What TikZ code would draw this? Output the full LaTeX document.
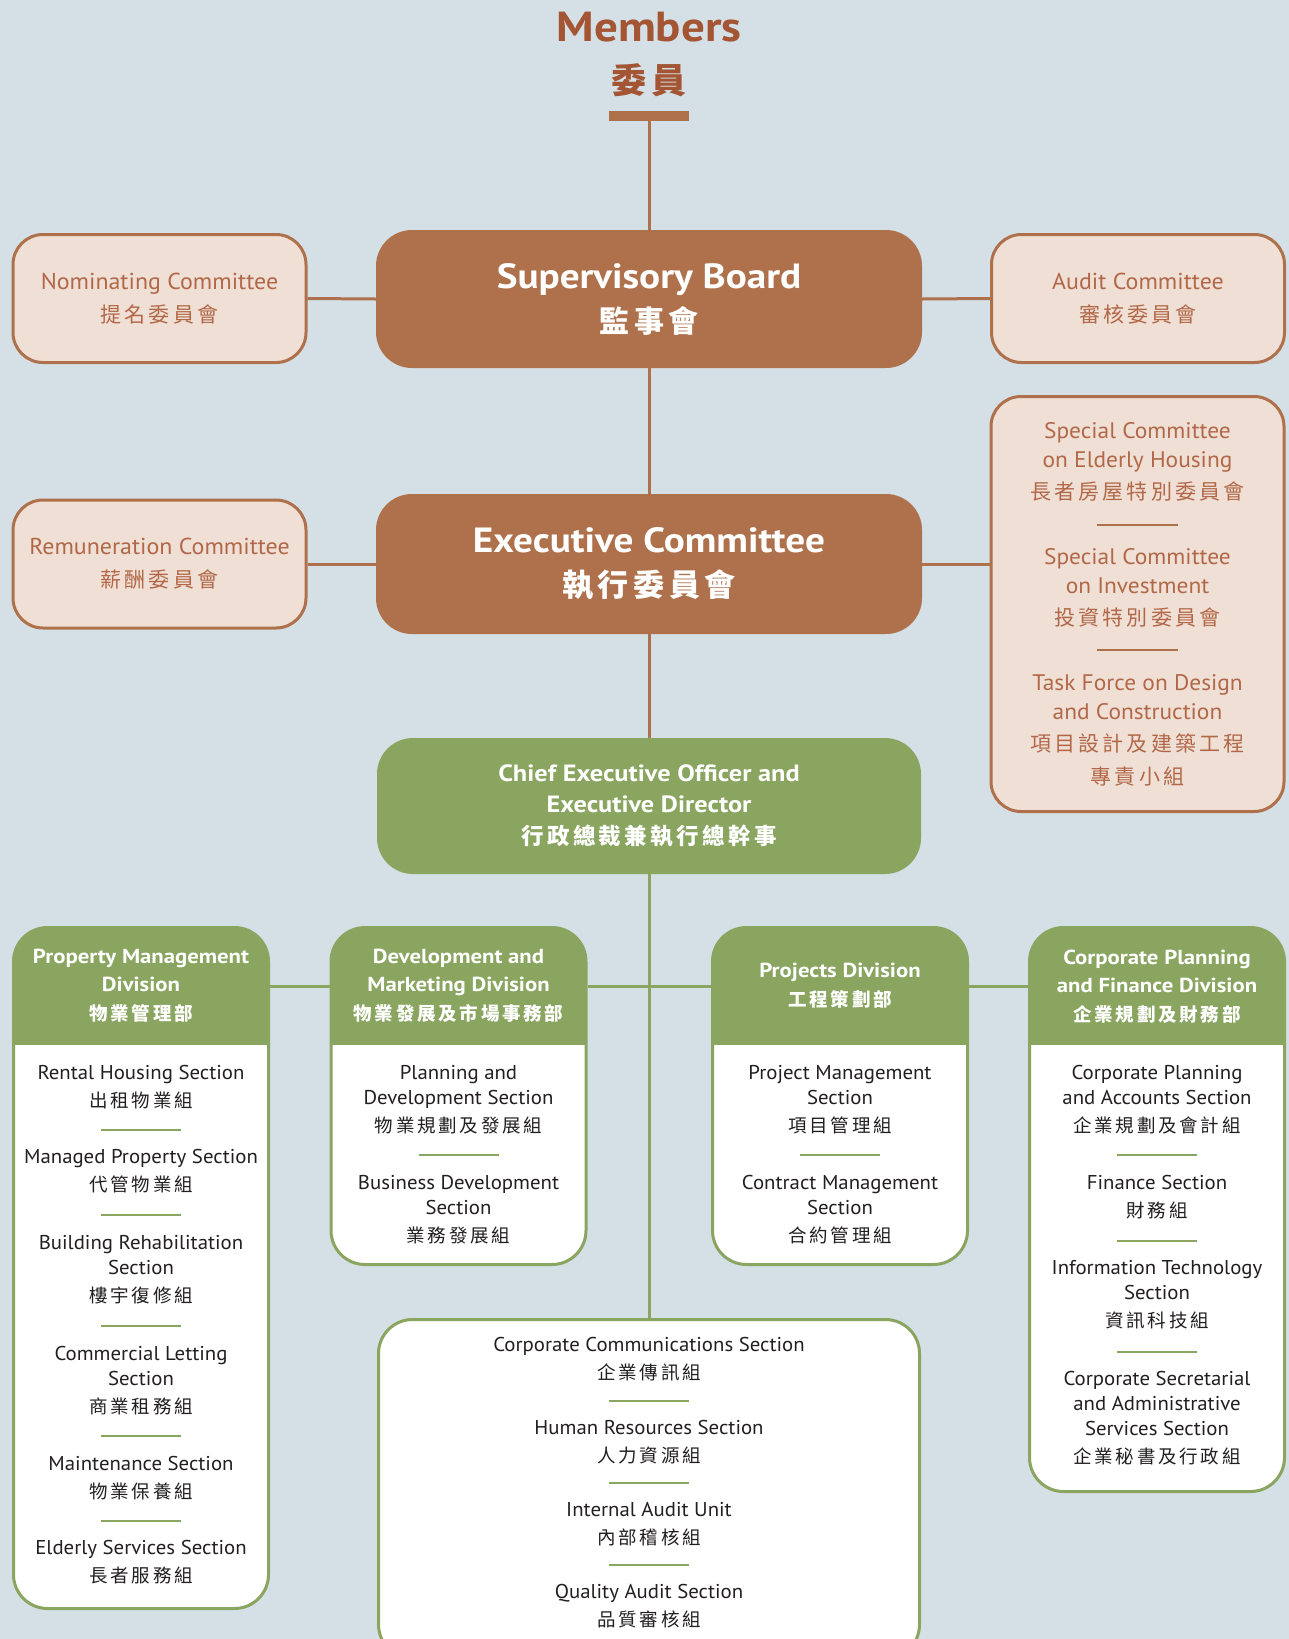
\documentclass[tikz,border=0pt]{standalone}
\usepackage{fontspec}
\setmainfont{PT Sans}[FakeStretch=1.04, BoldFeatures={FakeStretch=1.12}]
\newfontfamily\cjk[LetterSpace=15]{Noto Sans CJK TC}
\usepackage{tikz}
\usetikzlibrary{positioning,calc}
\usepackage{xcolor}
\definecolor{bgblue}{RGB}{213,224,230}
\definecolor{hkbrown}{RGB}{174,113,76}
\definecolor{darkbrown}{RGB}{163,85,52}
\definecolor{pinkfill}{RGB}{239,223,213}
\definecolor{ctext}{RGB}{178,104,72}
\definecolor{hkgreen}{RGB}{137,165,96}
\definecolor{bodytext}{RGB}{35,31,32}
\newcommand{\zh}[2]{{\cjk\fontsize{#1}{#1}\selectfont #2}}
\tikzstyle{bline} = [line width=3pt,color=hkbrown]
\tikzstyle{gline} = [line width=3pt,color=hkgreen]
\tikzstyle{grule} = [line width=1.5pt,color=hkgreen]
\tikzstyle{brule} = [line width=1.5pt,color=hkbrown]
\tikzstyle{brownbox} = [fill=hkbrown, rounded corners=36pt, text=white, align=center, inner sep=0pt,
  font=\bfseries\fontsize{35}{44}\selectfont, minimum width=546pt, minimum height=138pt]
\tikzstyle{pinkbox} = [draw=hkbrown, line width=3pt, fill=pinkfill, rounded corners=30pt, text=ctext, align=center,
  inner sep=0pt, font=\fontsize{23}{29}\selectfont, minimum width=293pt, minimum height=128pt]
\tikzstyle{greenbox} = [fill=hkgreen, rounded corners=36pt, text=white, align=center, inner sep=0pt,
  font=\bfseries\fontsize{23.5}{31}\selectfont, minimum width=544pt, minimum height=136pt]
\tikzstyle{bodybox} = [draw=hkgreen, line width=3pt, fill=white, rounded corners=34pt, inner sep=0pt, minimum width=255pt]
\tikzstyle{divbox} = [bodybox, path picture={\fill[hkgreen, sharp corners] (path picture bounding box.north west) rectangle ([yshift=-117.5pt]path picture bounding box.north east);}]
\tikzstyle{divhead} = [text=white, align=center, inner sep=0pt, font=\bfseries\fontsize{20.3}{28}\selectfont]
\tikzstyle{sect} = [text=bodytext, align=center, inner sep=0pt, font=\fontsize{20}{25}\selectfont]
\tikzstyle{spectext} = [text=ctext, align=center, inner sep=0pt, font=\fontsize{22.5}{29}\selectfont]

\begin{document}
\begin{tikzpicture}[x=1pt, y=-1pt]
% Background
\fill[bgblue, use as bounding box] (0,0) rectangle (1289,1639);

% Members
\node[font=\bfseries\fontsize{42}{52}\selectfont, text=darkbrown, align=center, inner sep=0pt] (members) at (649,54) {Members\\\zh{35}{委員}};
\node[fill=hkbrown, minimum width=80pt, minimum height=10pt, inner sep=0pt] (bar) at (649,116) {};

% Boards and committees
\node[brownbox] (sb) at (649,299) {Supervisory Board\\\zh{30}{監事會}};
\node[pinkbox] (nom) at (159.5,298.5) {Nominating Committee\\[4pt]\zh{21}{提名委員會}};
\node[pinkbox] (aud) at (1138,298.5) {Audit Committee\\[4pt]\zh{21}{審核委員會}};
\node[brownbox, minimum height=140pt] (ec) at (649,564) {Executive Committee\\\zh{31}{執行委員會}};
\node[pinkbox] (rem) at (159.5,564) {Remuneration Committee\\[4pt]\zh{21}{薪酬委員會}};
\node[pinkbox, minimum height=415pt] (spec) at (1137.5,604) {};
\node[spectext] (sc1) at (1137.5,461.5) {Special Committee\\on Elderly Housing\\[3pt]\zh{21}{長者房屋特別委員會}};
\node[spectext] (sc2) at (1137.5,587.5) {Special Committee\\on Investment\\[3pt]\zh{21}{投資特別委員會}};
\node[spectext] (sc3) at (1137.5,730.5) {Task Force on Design\\and Construction\\[3pt]\zh{21}{項目設計及建築工程}\\[4pt]\zh{21}{專責小組}};
\foreach \y in {525,650}
    \draw[brule] (1097,\y) -- (1178,\y);

% CEO
\node[greenbox] (ceo) at (649,806) {Chief Executive Officer and\\Executive Director\\[1pt]\zh{22.5}{行政總裁兼執行總幹事}};

% Divisions
\node[divbox, minimum height=681pt] (pm) at (141,1268) {};
\node[divbox, minimum height=337pt] (dm) at (458.5,1096) {};
\node[divbox, minimum height=337pt] (pj) at (840,1096) {};
\node[divbox, minimum height=564pt] (cf) at (1157,1209.5) {};
\node[bodybox, minimum width=541pt, minimum height=339pt] (bot) at (649,1489) {};

\node[divhead] (pmh) at (141,986) {Property Management\\Division\\[1pt]\zh{18.5}{物業管理部}};
\node[divhead] (dmh) at (458.5,986) {Development and\\Marketing Division\\[1pt]\zh{18.5}{物業發展及市場事務部}};
\node[divhead] (pjh) at (840,986) {Projects Division\\[1pt]\zh{18.5}{工程策劃部}};
\node[divhead] (cfh) at (1157,987) {Corporate Planning\\and Finance Division\\[1pt]\zh{18.5}{企業規劃及財務部}};

% Sections
\node[sect] (pm1) at (141,1087) {Rental Housing Section\\[3pt]\zh{18.5}{出租物業組}};
\node[sect] (pm2) at (141,1171) {Managed Property Section\\[3pt]\zh{18.5}{代管物業組}};
\node[sect] (pm3) at (141,1269.5) {Building Rehabilitation\\Section\\[3pt]\zh{18.5}{樓宇復修組}};
\node[sect] (pm4) at (141,1380.5) {Commercial Letting\\Section\\[3pt]\zh{18.5}{商業租務組}};
\node[sect] (pm5) at (141,1478) {Maintenance Section\\[3pt]\zh{18.5}{物業保養組}};
\node[sect] (pm6) at (141,1562) {Elderly Services Section\\[3pt]\zh{18.5}{長者服務組}};
\foreach \y in {1130,1215,1326,1436,1521}
    \draw[grule] (101,\y) -- (181,\y);

\node[sect] (dm1) at (458.5,1100) {Planning and\\Development Section\\[3pt]\zh{18.5}{物業規劃及發展組}};
\node[sect] (dm2) at (458.5,1210) {Business Development\\Section\\[3pt]\zh{18.5}{業務發展組}};
\draw[grule] (418.5,1155) -- (498.5,1155);

\node[sect] (pj1) at (840,1100) {Project Management\\Section\\[3pt]\zh{18.5}{項目管理組}};
\node[sect] (pj2) at (840,1210) {Contract Management\\Section\\[3pt]\zh{18.5}{合約管理組}};
\draw[grule] (800,1155) -- (880,1155);

\node[sect] (cf1) at (1157,1100) {Corporate Planning\\and Accounts Section\\[3pt]\zh{18.5}{企業規劃及會計組}};
\node[sect] (cf2) at (1157,1197.5) {Finance Section\\[3pt]\zh{18.5}{財務組}};
\node[sect] (cf3) at (1157,1295) {Information Technology\\Section\\[3pt]\zh{18.5}{資訊科技組}};
\node[sect] (cf4) at (1157,1418.5) {Corporate Secretarial\\and Administrative\\Services Section\\[3pt]\zh{18.5}{企業秘書及行政組}};
\foreach \y in {1155,1241,1352}
    \draw[grule] (1117,\y) -- (1197,\y);

\node[sect] (bt1) at (649,1359.5) {Corporate Communications Section\\[3pt]\zh{18.5}{企業傳訊組}};
\node[sect] (bt2) at (649,1442) {Human Resources Section\\[3pt]\zh{18.5}{人力資源組}};
\node[sect] (bt3) at (649,1524) {Internal Audit Unit\\[3pt]\zh{18.5}{內部稽核組}};
\node[sect] (bt4) at (649,1606) {Quality Audit Section\\[3pt]\zh{18.5}{品質審核組}};
\foreach \y in {1401,1483,1565}
    \draw[grule] (609,\y) -- (689,\y);

% Connectors
\draw[bline] (bar.south) -- (sb.north);
\draw[bline] (nom.east) -- (sb.west);
\draw[bline] (sb.east) -- (aud.west);
\draw[bline] (sb.south) -- (ec.north);
\draw[bline] (rem.east) -- (ec.west);
\draw[bline] (ec.east) -- (ec.east -| spec.west);
\draw[bline] (ec.south) -- (ceo.north);
\coordinate (bus) at (649,986);
\draw[gline] (ceo.south) -- (bot.north);
\draw[gline] (bus -| pm.east) -- (bus -| dm.west);
\draw[gline] (bus -| dm.east) -- (bus -| pj.west);
\draw[gline] (bus -| pj.east) -- (bus -| cf.west);
\end{tikzpicture}
\end{document}
